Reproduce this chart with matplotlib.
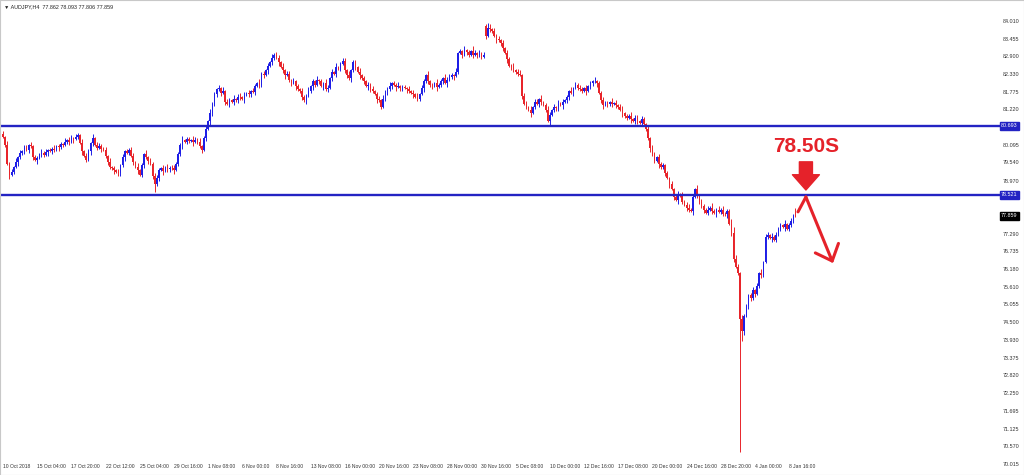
import matplotlib
matplotlib.use('Agg')
import matplotlib.pyplot as plt
from matplotlib import transforms

plt.rcParams['font.family'] = ['Liberation Sans', 'DejaVu Sans']

chart_title = '\u25bc AUDJPY,H4  77.862 78.093 77.806 77.859'

# H4 closes (estimated)
first_open = 80.45
closes = [
    80.35, 80.10, 79.50, 79.15, 79.25, 79.40, 79.55, 79.70, 79.85, 79.90, 80.00, 79.95,
    80.08, 80.05, 79.70, 79.62, 79.68, 79.80, 79.85, 79.78, 79.88, 79.92, 79.90, 79.98,
    79.95, 80.05, 80.02, 80.12, 80.10, 80.20, 80.25, 80.18, 80.30, 80.28, 80.35, 80.40,
    80.15, 79.90, 79.75, 79.62, 79.90, 80.15, 80.32, 80.10, 80.00, 80.05, 79.98, 79.95,
    79.75, 79.55, 79.40, 79.35, 79.30, 79.25, 79.20, 79.45, 79.70, 79.90, 79.85, 79.95,
    79.75, 79.55, 79.40, 79.30, 79.15, 79.45, 79.80, 79.70, 79.60, 79.50, 79.10, 78.85,
    79.05, 79.30, 79.35, 79.28, 79.40, 79.32, 79.38, 79.35, 79.30, 79.50, 79.80, 80.10,
    80.25, 80.20, 80.28, 80.22, 80.25, 80.18, 80.26, 80.20, 80.05, 79.95, 80.30, 80.60,
    80.85, 81.10, 81.40, 81.70, 81.85, 81.90, 81.75, 81.80, 81.45, 81.40, 81.50, 81.45,
    81.55, 81.50, 81.62, 81.60, 81.55, 81.68, 81.72, 81.70, 81.80, 81.78, 81.95, 82.05,
    81.98, 82.35, 82.30, 82.45, 82.60, 82.70, 82.85, 82.95, 82.85, 82.70, 82.55, 82.45,
    82.30, 82.35, 82.15, 82.05, 82.10, 81.95, 81.85, 81.80, 81.60, 81.50, 81.65, 81.80,
    81.95, 82.10, 82.00, 82.15, 82.10, 81.95, 82.05, 81.85, 81.90, 82.20, 82.40, 82.35,
    82.55, 82.50, 82.65, 82.75, 82.45, 82.30, 82.20, 82.45, 82.70, 82.55, 82.40, 82.30,
    82.20, 82.10, 81.95, 82.00, 81.85, 81.80, 81.70, 81.55, 81.50, 81.30, 81.55, 81.80,
    81.85, 81.95, 82.05, 82.00, 81.92, 81.95, 81.88, 81.92, 81.90, 81.85, 81.80, 81.75,
    81.70, 81.62, 81.55, 81.70, 81.90, 82.10, 82.30, 82.10, 81.98, 81.95, 82.05, 81.92,
    82.00, 82.10, 82.20, 82.05, 82.15, 82.25, 82.30, 82.28, 82.40, 83.00, 83.05, 82.95,
    83.10, 83.02, 82.95, 83.05, 82.95, 83.00, 82.92, 82.98, 82.88, 82.95, 83.55, 83.80,
    83.75, 83.70, 83.55, 83.45, 83.40, 83.30, 83.15, 83.00, 82.80, 82.60, 82.55, 82.45,
    82.40, 82.35, 82.30, 81.65, 81.40, 81.30, 81.20, 81.10, 81.30, 81.45, 81.40, 81.55,
    81.45, 81.35, 81.20, 80.85, 81.05, 81.20, 81.30, 81.25, 81.40, 81.35, 81.45, 81.50,
    81.60, 81.80, 81.75, 81.90, 82.00, 81.90, 81.85, 81.80, 81.88, 81.80, 81.95, 82.05,
    82.10, 82.12, 82.05, 81.75, 81.50, 81.35, 81.40, 81.38, 81.45, 81.40, 81.42, 81.35,
    81.30, 81.20, 81.10, 81.00, 80.95, 81.02, 80.90, 80.85, 80.95, 80.85, 80.80, 80.90,
    80.75, 80.60, 80.30, 80.00, 79.80, 79.60, 79.70, 79.50, 79.40, 79.45, 79.20, 79.05,
    78.85, 78.70, 78.45, 78.35, 78.55, 78.50, 78.30, 78.20, 78.10, 78.05, 78.00, 78.45,
    78.70, 78.50, 78.30, 78.15, 78.05, 77.95, 78.05, 78.10, 78.00, 77.95, 78.05, 77.98,
    78.05, 77.92, 77.90, 78.00, 77.60, 77.30, 76.50, 76.25, 76.05, 74.60, 74.20, 74.70,
    75.00, 75.35, 75.25, 75.50, 75.40, 75.65, 76.05, 76.00, 76.40, 77.20, 77.25, 77.15,
    77.20, 77.10, 77.25, 77.45, 77.55, 77.50, 77.60, 77.45, 77.55, 77.70, 77.862, 77.859,
]
gap_opens = {226: 83.85}

# wick lengths per bar, one digit each, in steps of wick_unit
wick_unit = 0.04
upper_wick = ''.join([
    "2131213121", "2213122131", "2121312213", "1231221312", "2131232121",
    "3121213121", "2213121312", "1322131212", "3121312213", "2131221312",
    "1213122131", "2312131221", "3121213122", "1312213121", "2213121312",
    "1321213122", "2131221312", "1213122131", "2312131221", "3121312213",
    "1213121322", "2131213121", "4213122131", "2121312213", "1231221312",
    "2131232121", "3121213121", "2213121312", "1322131212", "3121312213",
    "2131221312", "1213122131", "2312131221", "3242131312", "2453213121",
    "2312131221", "3121213122", "13",
])
lower_wick = ''.join([
    "1213121312", "2131213122", "1312213121", "2213121312", "1321213122",
    "2131221312", "1213122131", "2312131221", "3121312213", "1213121322",
    "2131213121", "2213122131", "2121312213", "1231221312", "2131232121",
    "3121213121", "2213121312", "1322131212", "3121312213", "2131221312",
    "1213122131", "2312131221", "3121213122", "1312213121", "2213121312",
    "1321213122", "2131221312", "1213122131", "2312131221", "3121312213",
    "1213121322", "2131213121", "2213122131", "2121312213", "1231221312",
    "2131232121", "3121213121", "21",
])
extreme_highs = {227: 83.95, 371: 78.093}
extreme_lows = {71: 78.60, 345: 70.40, 346: 73.90}

time_labels = ['10 Oct 2018', '15 Oct 04:00', '17 Oct 20:00', '22 Oct 12:00', '25 Oct 04:00',
               '29 Oct 16:00', '1 Nov 08:00', '6 Nov 00:00', '8 Nov 16:00', '13 Nov 08:00',
               '16 Nov 00:00', '20 Nov 16:00', '23 Nov 08:00', '28 Nov 00:00', '30 Nov 16:00',
               '5 Dec 08:00', '10 Dec 00:00', '12 Dec 16:00', '17 Dec 08:00', '20 Dec 00:00',
               '24 Dec 16:00', '28 Dec 20:00', '4 Jan 00:00', '8 Jan 16:00']
bars_per_label = 16
price_ticks = [84.010, 83.455, 82.900, 82.330, 81.775, 81.220, 80.095, 79.540, 78.970, 78.415,
               77.290, 76.735, 76.180, 75.610, 75.055, 74.500, 73.930, 73.375, 72.820, 72.250,
               71.695, 71.125, 70.570, 70.015]
levels = [80.693, 78.521]
last_price = 77.859
target_text = '78.50S'

BULL = '#1e1ee6'
BEAR = '#e8242a'
LEVEL = '#2323c3'
RED = '#e5222a'

n = len(closes)
opens, highs, lows = [], [], []
for i in range(n):
    o = first_open if i == 0 else gap_opens.get(i, closes[i - 1])
    c = closes[i]
    opens.append(o)
    highs.append(extreme_highs.get(i, max(o, c) + int(upper_wick[i]) * wick_unit))
    lows.append(extreme_lows.get(i, min(o, c) - int(lower_wick[i]) * wick_unit))

colors = [BULL if c >= o else BEAR for o, c in zip(opens, closes)]
bodies = [max(abs(c - o), 0.02) for o, c in zip(opens, closes)]
bottoms = [min(o, c) for o, c in zip(opens, closes)]
xs = list(range(n))

fig = plt.figure(figsize=(10.24, 4.75), dpi=100)
ax = fig.add_axes([0, 0, 1, 1])
ax.set_xlim(-1.4, 478.0)
ax.set_ylim(69.666, 84.6735)

ax.vlines(xs, lows, highs, colors=colors, linewidth=0.7)
ax.bar(xs, bodies, bottom=bottoms, width=0.75, color=colors, linewidth=0)

for lvl in levels:
    ax.axhline(lvl, xmin=0, xmax=1000 / 1024, color=LEVEL, linewidth=1.7)

# price scale drawn inside the chart like MT4
ax.yaxis.tick_right()
ax.set_yticks(price_ticks)
ax.set_yticklabels(['%.3f' % p for p in price_ticks])
ax.tick_params(axis='y', length=0, pad=-15, labelsize=3.9, labelcolor='#333333')

ax.set_xticks([k * bars_per_label for k in range(len(time_labels))])
ax.set_xticklabels(time_labels)
for lab in ax.get_xticklabels():
    lab.set_ha('left')
ax.tick_params(axis='x', length=0, pad=-8, labelsize=3.6, labelcolor='#333333')

scale = transforms.blended_transform_factory(ax.transAxes, ax.transData)
for lvl in levels:
    ax.text(1001 / 1024, lvl, '%.3f' % lvl, transform=scale, fontsize=3.9, color='white',
            va='center', ha='left',
            bbox=dict(boxstyle='square,pad=0.25', facecolor=LEVEL, edgecolor=LEVEL))
ax.text(1001 / 1024, last_price, '%.3f' % last_price, transform=scale, fontsize=3.9,
        color='white', va='center', ha='left',
        bbox=dict(boxstyle='square,pad=0.25', facecolor='black', edgecolor='black'))

ax.text(0.004, 0.992, chart_title, transform=ax.transAxes, fontsize=3.9, va='top', ha='left',
        color='#222222')

for sp in ax.spines.values():
    sp.set_color('#c8c8c8')
    sp.set_linewidth(0.8)

# sell idea at the 78.50 resistance
last_x = n - 1
ax.text(last_x + 4.9, 80.03, target_text, color=RED, fontsize=15, fontweight='bold',
        ha='center', va='center')
ax.annotate('', xy=(last_x + 4.9, 78.67), xytext=(last_x + 4.9, 79.56),
            arrowprops=dict(arrowstyle='simple,head_length=0.55,head_width=0.97,tail_width=0.47',
                            color=RED, mutation_scale=20, shrinkA=0, shrinkB=0))
ax.plot([last_x + 1.2, last_x + 4.9], [77.98, 78.45], color=RED, linewidth=2.2,
        solid_capstyle='round')
ax.annotate('', xy=(last_x + 17.6, 76.36), xytext=(last_x + 4.9, 78.45),
            arrowprops=dict(arrowstyle='->,head_length=0.5,head_width=0.45', color=RED,
                            linewidth=2.2, mutation_scale=20, shrinkA=0, shrinkB=0))

fig.savefig('out.png', dpi=100, facecolor='white')
